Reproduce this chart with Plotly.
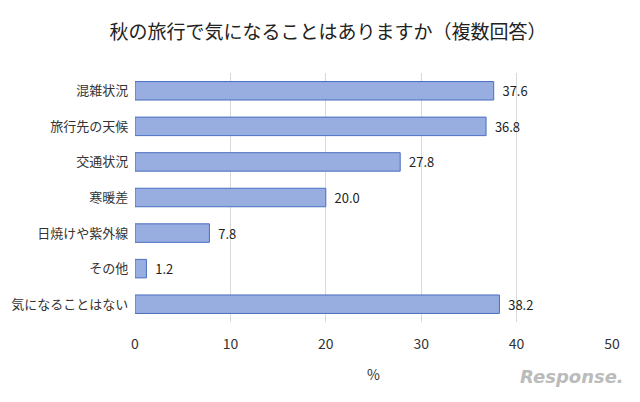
import plotly.graph_objects as go

categories = ['混雑状況', '旅行先の天候', '交通状況', '寒暖差', '日焼けや紫外線', 'その他', '気になることはない']
values = [37.6, 36.8, 27.8, 20.0, 7.8, 1.2, 38.2]
tick_vals = [0, 10, 20, 30, 40, 50]

font = 'Noto Sans CJK JP'

fig = go.Figure()
fig.add_trace(go.Bar(
    y=categories, x=values, orientation='h',
    text=[f'  {v:.1f}' for v in values], textposition='outside',
    textfont=dict(size=14, color='#222'),
    marker=dict(color='#98ADE0', line=dict(color='#4A6FC0', width=1)),
    width=0.52, cliponaxis=False,
))

fig.update_layout(
    width=640, height=402,
    margin=dict(l=127, r=36, t=65, b=88),
    plot_bgcolor='white', paper_bgcolor='white',
    font=dict(family=font, size=13, color='#333'),
    title=dict(text='秋の旅行で気になることはありますか（複数回答）',
               x=0.5, xanchor='center', y=0.94, yanchor='middle',
               font=dict(size=19, color='#222')),
    xaxis=dict(range=[0, 50], tickvals=tick_vals, showgrid=True,
               gridcolor='#D9D9D9', zeroline=False, showline=False,
               automargin=False, ticks='outside', ticklen=9, tickcolor='white',
               tickfont=dict(size=14, color='#333'),
               title=dict(text='%', font=dict(size=14), standoff=18)),
    yaxis=dict(autorange='reversed', showgrid=False, showline=False,
               automargin=False,
               ticksuffix='  ', tickfont=dict(size=13, color='#333')),
    showlegend=False,
)
fig.add_annotation(text='<i><b>Response.</b></i>', xref='paper', yref='paper',
                   x=1.03, y=-0.27, xanchor='right', yanchor='bottom', showarrow=False,
                   font=dict(size=18, color='#BBBBBB', family='DejaVu Sans'))

fig.write_html('out.html')
